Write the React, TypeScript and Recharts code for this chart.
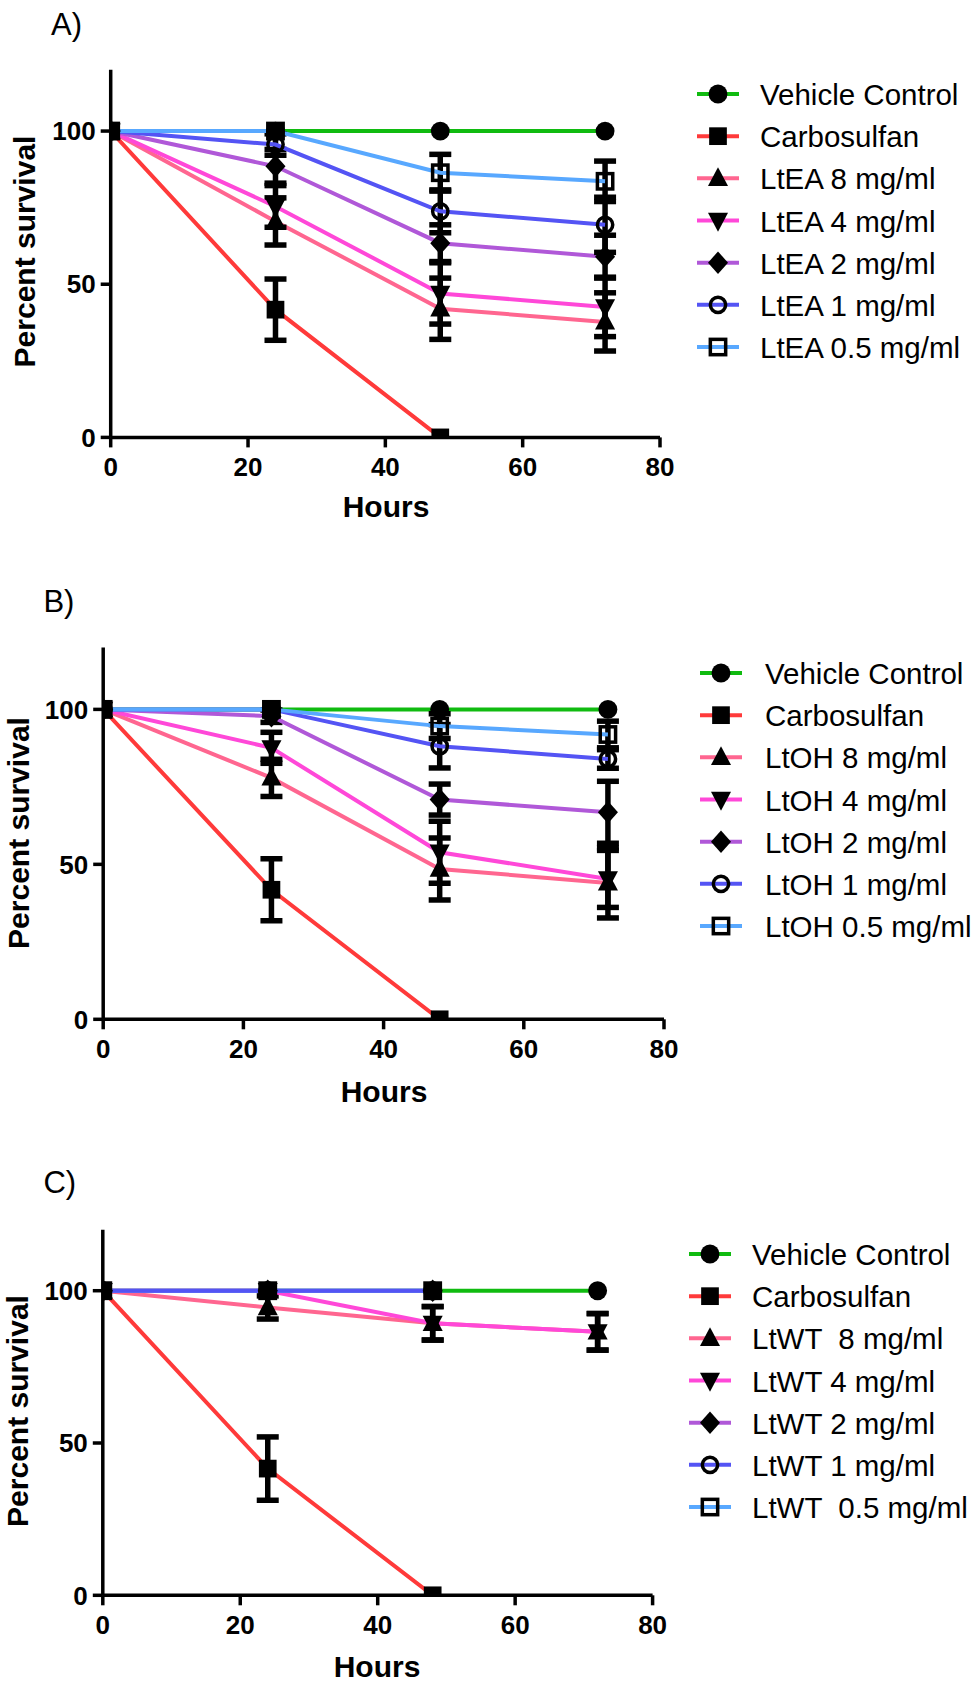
import React from 'react';
import { LineChart, Line, XAxis, YAxis, ErrorBar, Legend } from 'recharts';

// ---------- DATA ----------
const HOURS = [0, 24, 48, 72];
const X_TICKS = [0, 20, 40, 60, 80];
const Y_TICKS = [0, 50, 100];

const NAMES_A = ['Vehicle Control', 'Carbosulfan', 'LtEA 8 mg/ml', 'LtEA 4 mg/ml', 'LtEA 2 mg/ml', 'LtEA 1 mg/ml', 'LtEA 0.5 mg/ml'];
const NAMES_B = ['Vehicle Control', 'Carbosulfan', 'LtOH 8 mg/ml', 'LtOH 4 mg/ml', 'LtOH 2 mg/ml', 'LtOH 1 mg/ml', 'LtOH 0.5 mg/ml'];
const NAMES_C = ['Vehicle Control', 'Carbosulfan', 'LtWT  8 mg/ml', 'LtWT 4 mg/ml', 'LtWT 2 mg/ml', 'LtWT 1 mg/ml', 'LtWT  0.5 mg/ml'];

// Panel A (LtEA) – mean percent survival
const A_VEHICLE = [100, 100, 100, 100];
const A_CARBO = [100, 41.7, 0, null];
const A_8 = [100, 70.5, 42, 37.7];
const A_4 = [100, 75.4, 47, 42.6];
const A_2 = [100, 88.5, 63.4, 59];
const A_1 = [100, 95.6, 73.8, 69.4];
const A_05 = [100, 100, 86.4, 83.6];
// Panel A – SEM
const A_VEHICLE_ERR = [0, 0, 0, 0];
const A_CARBO_ERR = [0, 10, 0, null];
const A_8_ERR = [0, 7.7, 10, 9.5];
const A_4_ERR = [0, 6.8, 10, 9.7];
const A_2_ERR = [0, 5.5, 6, 7];
const A_1_ERR = [0, 3.5, 7, 9];
const A_05_ERR = [0, 0, 6, 6.6];

// Panel B (LtOH)
const B_VEHICLE = [100, 100, 100, 100];
const B_CARBO = [100, 41.8, 0, null];
const B_8 = [100, 77.9, 48.5, 44];
const B_4 = [100, 87.6, 53.9, 45.3];
const B_2 = [100, 97.8, 70.9, 66.8];
const B_1 = [100, 100, 88.1, 84];
const B_05 = [100, 100, 94.6, 91.9];
const B_VEHICLE_ERR = [0, 0, 0, 0];
const B_CARBO_ERR = [0, 10, 0, null];
const B_8_ERR = [0, 6, 10, 11.3];
const B_4_ERR = [0, 5, 10, 9.2];
const B_2_ERR = [0, 2, 5, 10];
const B_1_ERR = [0, 0, 7, 3];
const B_05_ERR = [0, 0, 4, 4.3];

// Panel C (LtWT)
const C_VEHICLE = [100, 100, 100, 100];
const C_CARBO = [100, 41.6, 0, null];
const C_8 = [100, 94.5, 89.3, 86.5];
const C_4 = [100, 100, 89.3, 86.5];
const C_2 = [100, 100, 100, null];
const C_1 = [100, 100, 100, null];
const C_05 = [100, 100, 100, null];
const C_VEHICLE_ERR = [0, 0, 0, 0];
const C_CARBO_ERR = [0, 10.4, 0, null];
const C_8_ERR = [0, 3.8, 5.5, 6];
const C_4_ERR = [0, 0, 5.5, 6];
const C_2_ERR = [0, 0, 0, null];
const C_1_ERR = [0, 0, 0, null];
const C_05_ERR = [0, 0, 0, null];

// ---------- STYLE ----------
const COLORS = ['#10BB10', '#FF3A3A', '#FF6690', '#FF48D8', '#B058D8', '#5454F4', '#58A8FF'];
const SHAPES = ['circle', 'square', 'triUp', 'triDown', 'diamond', 'openCircle', 'openSquare'];
const FONT = "'Liberation Sans', Arial, Helvetica, sans-serif";
const MS = 1.18; // marker scale

type Panel = {
  names: string[];
  values: (number | null)[][];
  errors: (number | null)[][];
  order: number[];
  letter: string;
  top: number; height: number; yAxisWidth: number; right: number; plotTop: number; plotBottom: number;
  letterX: number; letterY: number; ylabX: number; ylabY: number; xlabX: number; xlabY: number;
  legendLeft: number; legendTop: number; legendTextX: number;
};

const PANELS: Panel[] = [
  {
    names: NAMES_A,
    values: [A_VEHICLE, A_CARBO, A_8, A_4, A_2, A_1, A_05],
    errors: [A_VEHICLE_ERR, A_CARBO_ERR, A_8_ERR, A_4_ERR, A_2_ERR, A_1_ERR, A_05_ERR],
    order: [0, 1, 2, 3, 4, 5, 6],
    letter: 'A)',
    top: 0, height: 580, yAxisWidth: 110.7, right: 317, plotTop: 69.8, plotBottom: 437.4,
    letterX: 51, letterY: 35, ylabX: 35, ylabY: 251.5, xlabX: 386, xlabY: 517,
    legendLeft: 697, legendTop: 74.3, legendTextX: 63,
  },
  {
    names: NAMES_B,
    values: [B_VEHICLE, B_CARBO, B_8, B_4, B_2, B_1, B_05],
    errors: [B_VEHICLE_ERR, B_CARBO_ERR, B_8_ERR, B_4_ERR, B_2_ERR, B_1_ERR, B_05_ERR],
    order: [0, 1, 2, 3, 4, 5, 6],
    letter: 'B)',
    top: 580, height: 580, yAxisWidth: 103.2, right: 313, plotTop: 67.4, plotBottom: 439.3,
    letterX: 43.4, letterY: 31.7, ylabX: 28.5, ylabY: 253, xlabX: 384, xlabY: 521.5,
    legendLeft: 700, legendTop: 73.3, legendTextX: 65,
  },
  {
    names: NAMES_C,
    values: [C_VEHICLE, C_CARBO, C_8, C_4, C_2, C_1, C_05],
    errors: [C_VEHICLE_ERR, C_CARBO_ERR, C_8_ERR, C_4_ERR, C_2_ERR, C_1_ERR, C_05_ERR],
    order: [0, 1, 2, 3, 4, 6, 5],
    letter: 'C)',
    top: 1160, height: 526, yAxisWidth: 102.8, right: 324.4, plotTop: 69.8, plotBottom: 435.3,
    letterX: 43.4, letterY: 33, ylabX: 28, ylabY: 251, xlabX: 377, xlabY: 517,
    legendLeft: 689, legendTop: 74.3, legendTextX: 63,
  },
];

function Marker({ shape, cx, cy }: { shape: string; cx: number; cy: number }) {
  const s = MS;
  switch (shape) {
    case 'circle':
      return <circle cx={cx} cy={cy} r={8 * s} fill="#000" />;
    case 'square':
      return <rect x={cx - 7.5 * s} y={cy - 7.5 * s} width={15 * s} height={15 * s} fill="#000" />;
    case 'triUp':
      return <polygon points={`${cx},${cy - 9.5 * s} ${cx + 8.5 * s},${cy + 6.5 * s} ${cx - 8.5 * s},${cy + 6.5 * s}`} fill="#000" />;
    case 'triDown':
      return <polygon points={`${cx},${cy + 9.5 * s} ${cx + 8.5 * s},${cy - 6.5 * s} ${cx - 8.5 * s},${cy - 6.5 * s}`} fill="#000" />;
    case 'diamond':
      return <polygon points={`${cx},${cy - 9.5 * s} ${cx + 8.5 * s},${cy} ${cx},${cy + 9.5 * s} ${cx - 8.5 * s},${cy}`} fill="#000" />;
    case 'openCircle':
      return <circle cx={cx} cy={cy} r={6.5 * s} fill="none" stroke="#000" strokeWidth={3.5} />;
    case 'openSquare':
      return <rect x={cx - 6.5 * s} y={cy - 6.5 * s} width={13 * s} height={13 * s} fill="none" stroke="#000" strokeWidth={3.5} />;
    default:
      return null;
  }
}

const makeDot = (shape: string) => (props: any) => {
  const { cx, cy, index, value } = props;
  if (cx == null || cy == null || value == null || Number.isNaN(cy)) return <g key={`d-${index}`} />;
  return (
    <g key={`d-${index}`}>
      <Marker shape={shape} cx={cx} cy={cy} />
    </g>
  );
};

function PanelChart({ p }: { p: Panel }) {
  const rows = HOURS.map((h, i) => {
    const r: any = { h };
    p.values.forEach((v, k) => {
      r[`v${k}`] = v[i];
      r[`e${k}`] = p.errors[k][i];
    });
    return r;
  });
  const xAxisHeight = 60;
  const legendContent = () => (
    <svg width={280} height={300} style={{ display: 'block', overflow: 'visible' }}>
      {p.names.map((n, k) => {
        const y = 20 + k * 42.17;
        return (
          <g key={n}>
            <line x1={0} x2={42} y1={y} y2={y} stroke={COLORS[k]} strokeWidth={4} />
            <Marker shape={SHAPES[k]} cx={21} cy={y} />
            <text x={p.legendTextX} y={y + 11} fontFamily={FONT} fontSize={29.5} fill="#000" style={{ whiteSpace: 'pre' }}>
              {n}
            </text>
          </g>
        );
      })}
    </svg>
  );
  const yLabel = () => (
    <g>
      <text x={p.letterX} y={p.letterY} fontFamily={FONT} fontSize={31} fill="#000">
        {p.letter}
      </text>
      <text
        x={p.ylabX}
        y={p.ylabY}
        transform={`rotate(-90, ${p.ylabX}, ${p.ylabY})`}
        textAnchor="middle"
        fontFamily={FONT}
        fontWeight="bold"
        fontSize={30}
        fill="#000"
      >
        Percent survival
      </text>
    </g>
  );
  const xLabel = () => (
    <text x={p.xlabX} y={p.xlabY} textAnchor="middle" fontFamily={FONT} fontWeight="bold" fontSize={30} fill="#000">
      Hours
    </text>
  );
  const tickStyle = { fontSize: 26, fontWeight: 'bold', fill: '#000', fontFamily: FONT };
  return (
    <div style={{ position: 'absolute', left: 0, top: p.top }}>
      <LineChart
        width={977}
        height={p.height}
        data={rows}
        margin={{ top: p.plotTop, right: p.right, left: 0, bottom: p.height - p.plotBottom - xAxisHeight }}
      >
        <XAxis
          dataKey="h"
          type="number"
          domain={[0, 80]}
          ticks={X_TICKS}
          height={xAxisHeight}
          tickSize={10}
          tickMargin={10}
          axisLine={{ stroke: '#000', strokeWidth: 3.5 }}
          tickLine={{ stroke: '#000', strokeWidth: 3.5 }}
          tick={tickStyle}
          label={xLabel}
          allowDataOverflow
        />
        <YAxis
          type="number"
          domain={[0, 120]}
          ticks={Y_TICKS}
          width={p.yAxisWidth}
          tickSize={10}
          tickMargin={5}
          axisLine={{ stroke: '#000', strokeWidth: 3.5 }}
          tickLine={{ stroke: '#000', strokeWidth: 3.5 }}
          tick={tickStyle}
          label={yLabel}
          allowDataOverflow
        />
        {p.order.map((k) => (
          <Line
            key={k}
            type="linear"
            dataKey={`v${k}`}
            name={p.names[k]}
            stroke={COLORS[k]}
            strokeWidth={4}
            dot={makeDot(SHAPES[k])}
            activeDot={false}
            connectNulls={false}
            isAnimationActive={false}
          >
            <ErrorBar dataKey={`e${k}`} direction="y" width={11} strokeWidth={5.5} stroke="#000" />
          </Line>
        ))}
        <Legend
          layout="vertical"
          align="center"
          verticalAlign="middle"
          content={legendContent}
          wrapperStyle={{ left: p.legendLeft, top: p.legendTop, width: 280, height: 300 }}
        />
      </LineChart>
    </div>
  );
}

export default function App() {
  return (
    <div style={{ position: 'absolute', left: 0, top: 0, width: 977, height: 1686, background: '#fff' }}>
      {PANELS.map((p) => (
        <PanelChart key={p.letter} p={p} />
      ))}
    </div>
  );
}
